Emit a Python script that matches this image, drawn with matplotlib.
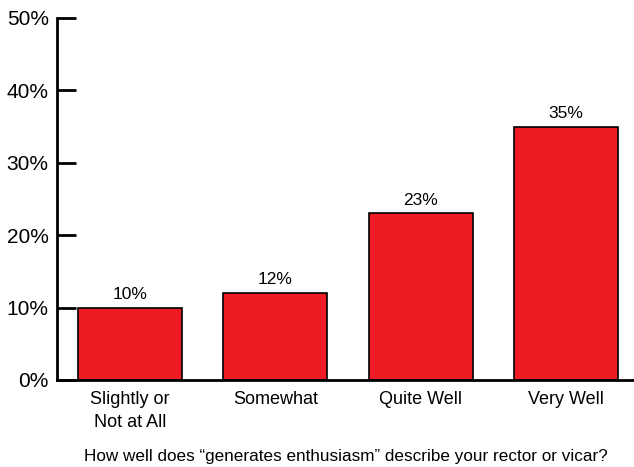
import matplotlib
matplotlib.use("Agg")
import matplotlib.pyplot as plt

categories = ["Slightly or\nNot at All", "Somewhat", "Quite Well", "Very Well"]
values = [10, 12, 23, 35]
bar_labels = ["10%", "12%", "23%", "35%"]
ytick_values = [0, 10, 20, 30, 40, 50]
ytick_labels = ["0%", "10%", "20%", "30%", "40%", "50%"]

plt.rcParams["font.family"] = ["Liberation Sans", "DejaVu Sans"]

fig = plt.figure(figsize=(6.34, 4.67), dpi=100)
ax = fig.add_axes([0.0899, 0.1863, 0.9101, 0.7752])

x = range(len(categories))
ax.bar(x, values, width=0.716, color="#ED1C24", edgecolor="black", linewidth=1.2)

for i, v in enumerate(values):
    ax.text(i, v + 0.8, bar_labels[i], ha="center", va="bottom", fontsize=12.5)

ax.set_xlim(-0.503, 3.47)
ax.set_ylim(0, 50)
ax.set_yticks(ytick_values)
ax.set_yticklabels(ytick_labels, fontsize=15)
ax.set_xticks(list(x))
ax.set_xticklabels(categories, fontsize=13, va="top", linespacing=1.45)
ax.tick_params(axis="y", direction="in", length=14, width=2, pad=6)
ax.tick_params(axis="x", length=0, pad=8)

ax.spines["top"].set_visible(False)
ax.spines["right"].set_visible(False)
ax.spines["left"].set_linewidth(2)
ax.spines["bottom"].set_linewidth(2)

# x-axis title sits at the very bottom of the figure
fig.text(0.546, 3 / 467, "How well does \u201cgenerates enthusiasm\u201d describe your rector or vicar?",
         ha="center", va="bottom", fontsize=12.3)

fig.savefig("out.png", dpi=100)
